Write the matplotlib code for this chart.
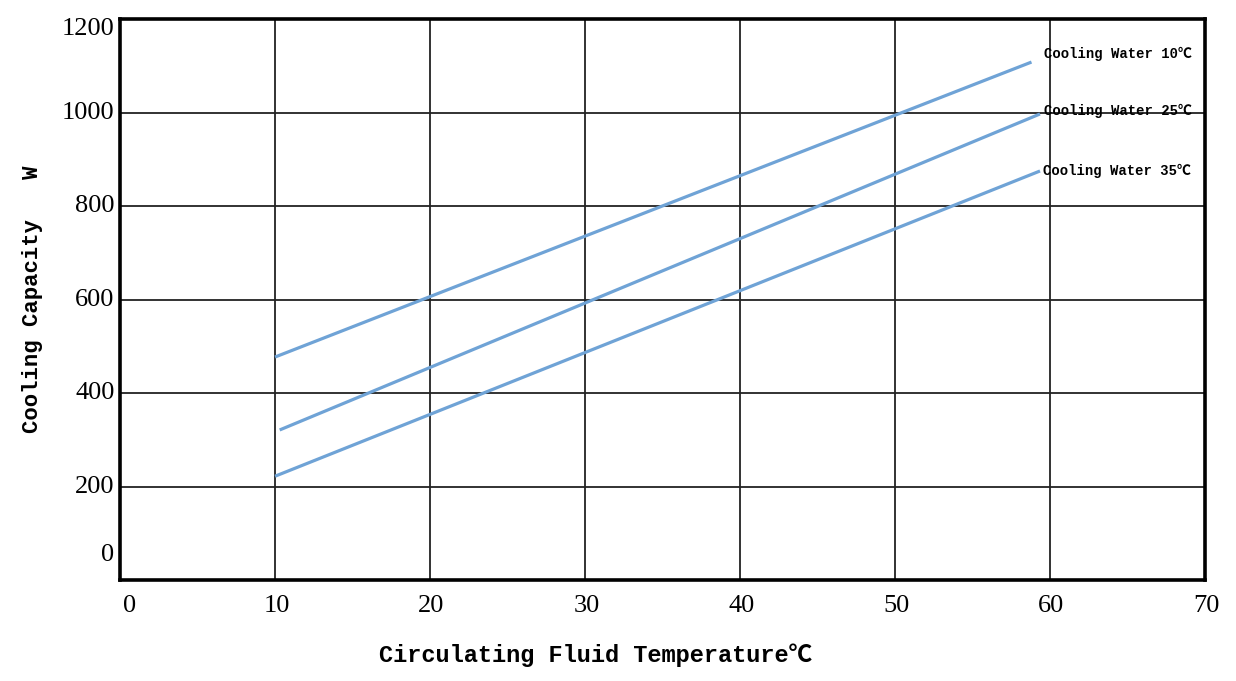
import numpy as np
import matplotlib.pyplot as plt

# cooling capacity curves
fluid_temp_start = [10, 10.3, 10]
fluid_temp_end = [58.8, 59.35, 59.35]
cap_start = [477, 321, 222]
cap_end = [1108, 997, 875]
labels = ['Cooling Water 10\u2103', 'Cooling Water 25\u2103', 'Cooling Water 35\u2103']
label_offsets = [(9, 6), (3, 2), (2, 0)]

xticks = [0, 10, 20, 30, 40, 50, 60, 70]
yticks = [0, 200, 400, 600, 800, 1000, 1200]

mono = ['Liberation Mono', 'Noto Sans CJK SC']
serif = ['Liberation Serif', 'DejaVu Serif']

fig = plt.figure(figsize=(12.36, 6.81), dpi=100)
ax = fig.add_axes([0.0971, 0.1483, 0.8779, 0.8237])

for i in range(3):
    ax.plot([fluid_temp_start[i], fluid_temp_end[i]], [cap_start[i], cap_end[i]],
            color='#6fa3d6', lw=2.3, solid_capstyle='butt')
    ax.annotate(labels[i], xy=(fluid_temp_end[i], cap_end[i]),
                xytext=label_offsets[i], textcoords='offset points',
                ha='left', va='center', fontsize=10, fontweight='bold',
                family=mono)

ax.set_xlim(0, 70)
ax.set_ylim(0, 1200)
ax.set_xticks(xticks)
ax.set_yticks(yticks)
ax.set_xticklabels([])
ax.set_yticklabels([])
ax.tick_params(length=0)
ax.grid(True, color='#222222', lw=1.3)
for s in ax.spines.values():
    s.set_linewidth(2.6)
    s.set_color('black')

# tick labels drawn by hand, they sit a little off the gridlines in the original
for v in yticks:
    dy = 0
    if v == 0:
        dy = 18
    if v == 1200:
        dy = -7
    ax.annotate(str(v), xy=(0, v), xycoords=('axes fraction', 'data'),
                xytext=(-4, dy), textcoords='offset points',
                ha='right', va='center', fontsize=19, family=serif)
for v in xticks:
    dx = 7 if v == 0 else 1
    ax.annotate(str(v), xy=(v, 0), xycoords=('data', 'axes fraction'),
                xytext=(dx, -19), textcoords='offset points',
                ha='center', va='center', fontsize=19, family=serif)

ax.set_xlabel('Circulating Fluid Temperature\u2103', fontsize=17,
              fontweight='bold', family=mono)
ax.xaxis.set_label_coords(0.438, -0.113)
ax.set_ylabel('Cooling Capacity   W', fontsize=16, fontweight='bold', family=mono)
ax.yaxis.set_label_coords(-0.071, 0.5)

fig.savefig('out.png', dpi=100)
